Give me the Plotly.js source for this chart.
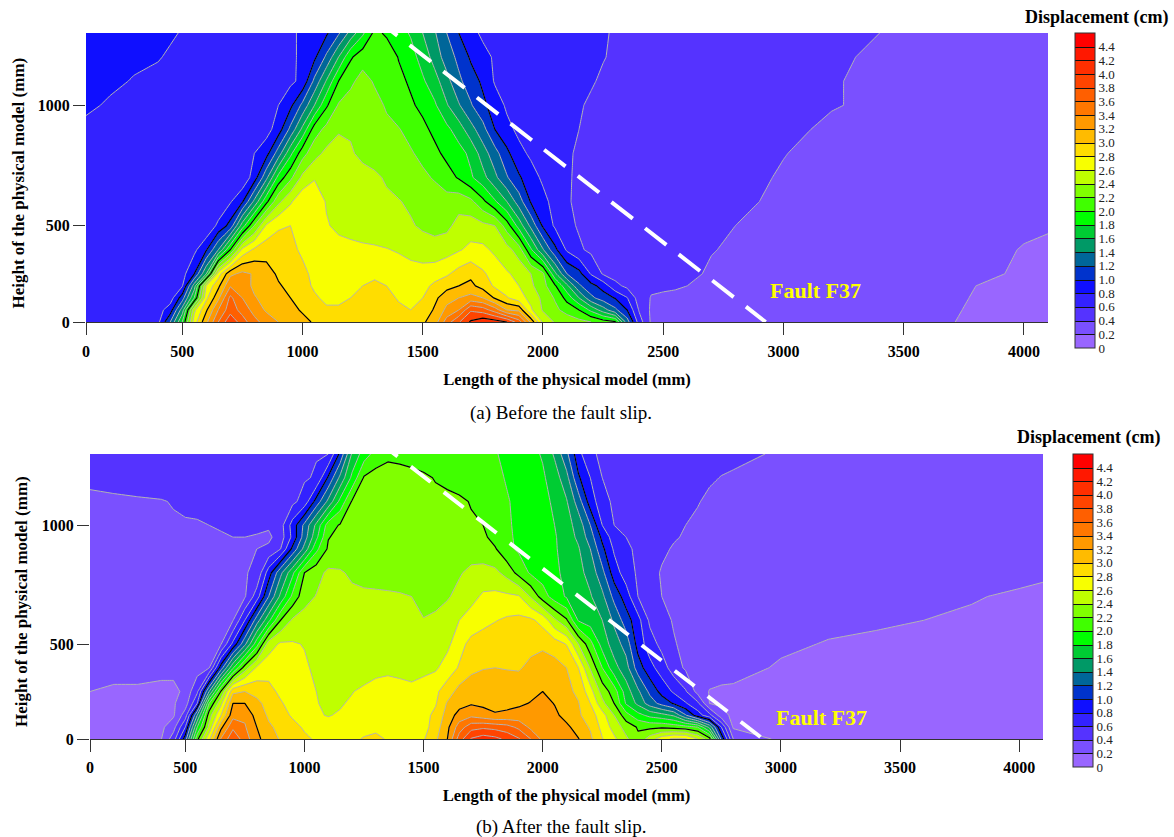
<!DOCTYPE html>
<html><head><meta charset="utf-8">
<script src="https://cdn.plot.ly/plotly-3.0.1.min.js"></script>
<style>html,body{margin:0;padding:0;background:#fff}#c{width:1174px;height:837px}</style>
</head><body><div id="c"></div>
<script>
const xGrid=[100,200,300,400,450,500,550,600,650,700,750,800,850,900,950,1000,1050,1100,1150,1200,1250,1300,1350,1400,1450,1500,1550,1600,1650,1700,1750,1800,1850,1900,1950,2000,2050,2100,2150,2200,2250,2300,2350,2400,2450,2500,2550,2600,2650,2700,2750,2800,3000,3200,3400,3600,3800,4000,4100];
const yGridA=[100,150,200,250,300,400,500,600,700,800,900,1000,1100,1200,1300];
const yGridB=[100,150,200,250,300,400,500,600,700,800,900,950,1000,1100,1200,1300];
const xTickVals=[100,500,1000,1500,2000,2500,3000,3500,4000];
const xTickText=["0","500","1000","1500","2000","2500","3000","3500","4000"];
const yTickVals=[100,500,1000];
const yTickText=["0","500","1000"];
const scaleTickVals=[0,0.2,0.4,0.6,0.8,1,1.2,1.4,1.6,1.8,2,2.2,2.4,2.6,2.8,3,3.2,3.4,3.6,3.8,4,4.2,4.4];
const scaleTickText=["0","0.2","0.4","0.6","0.8","1.0","1.2","1.4","1.6","1.8","2.0","2.2","2.4","2.6","2.8","3.0","3.2","3.4","3.6","3.8","4.0","4.2","4.4"];
const bandColors=["#9966ff","#7a50ff","#5533ff","#3322ff","#0f0fff","#0033cc","#006699","#009966","#00cc33","#00ff00","#40ff00","#80ff00","#bfff00","#f8ff00","#ffdd00","#ffbb00","#ff9900","#ff7700","#ff5f00","#ff4400","#ff2f00","#ff1800","#ff0000"];
const blackLevelsA=[1,2,3,4];
const blackLevelsB=[1,2.2,3.2];
const faultXsA=[1306,2926];
const faultYsA=[1358,100];
const faultXsB=[1308,2925];
const faultYsB=[1354,100];

const zA100=[.65,.65,.65,.75,1.2,1.8,2.7,3.15,3.6,3.95,3.7,3.46,3.32,3.2,3.13,3.05,2.98,2.93,2.9,2.88,2.88,2.9,2.9,2.88,2.92,2.97,3.1,3.5,3.78,4.03,4.14,4.1,4.0,3.7,3.15,2.55,2.38,2.33,2.26,2.2,2.1,2.03,1.3,.7,.37,.33,.33,.33,.33,.33,.33,.33,.32,.3,.28,.24,.17,.14,.13];
const zA150=[.66,.66,.66,.72,.9,1.49,2.55,2.97,3.4,3.72,3.52,3.33,3.17,3.08,3.05,2.98,2.88,2.82,2.82,2.84,2.87,2.88,2.85,2.82,2.8,2.85,3.03,3.25,3.4,3.77,3.7,3.5,3.2,3.15,2.63,2.38,2.25,2.12,2.0,1.75,1.5,1.25,1.0,.58,.37,.36,.36,.36,.35,.35,.35,.35,.34,.32,.29,.25,.18,.15,.14];
const zA200=[.62,.62,.62,.62,.7,1.1,1.8,2.75,3.15,3.65,3.4,3.22,3.12,3.04,3.0,2.9,2.82,2.77,2.77,2.8,2.83,2.86,2.83,2.79,2.77,2.8,2.95,3.13,3.2,3.27,3.2,2.98,2.82,2.68,2.54,2.35,2.18,1.93,1.6,1.25,1.1,.99,.81,.5,.39,.38,.38,.37,.37,.37,.36,.36,.35,.33,.3,.26,.19,.16,.15];
const zA250=[.63,.62,.62,.62,.62,.78,1.5,2.62,2.95,3.38,3.32,3.15,3.06,3.02,2.95,2.85,2.78,2.74,2.74,2.76,2.8,2.85,2.8,2.72,2.7,2.73,2.85,2.93,3.0,3.05,2.92,2.77,2.68,2.6,2.44,2.27,2.03,1.65,1.23,1.07,.92,.66,.55,.47,.43,.42,.41,.4,.36,.35,.34,.34,.33,.32,.3,.27,.2,.17,.16];
const zA300=[.64,.63,.63,.63,.63,.72,1.0,1.6,2.7,3.15,3.25,3.18,3.08,2.97,2.9,2.83,2.77,2.72,2.7,2.7,2.73,2.75,2.73,2.71,2.69,2.68,2.7,2.77,2.88,2.95,2.83,2.72,2.62,2.55,2.4,2.24,1.65,1.2,1.07,.78,.58,.52,.5,.49,.48,.47,.46,.44,.41,.37,.36,.36,.35,.33,.31,.28,.23,.18,.17];
const zA400=[.65,.64,.64,.64,.63,.62,.75,.98,1.4,2.0,2.65,2.84,2.92,2.88,2.83,2.78,2.74,2.71,2.68,2.66,2.64,2.63,2.61,2.58,2.53,2.5,2.49,2.52,2.58,2.65,2.65,2.56,2.48,2.3,1.83,1.42,1.05,.77,.63,.56,.54,.53,.52,.51,.5,.49,.47,.45,.43,.41,.39,.37,.34,.32,.3,.29,.26,.19,.18];
const zA500=[.66,.65,.65,.65,.64,.63,.62,.62,.85,1.07,1.7,2.2,2.63,2.78,2.8,2.72,2.66,2.62,2.55,2.52,2.5,2.48,2.46,2.44,2.42,2.37,2.33,2.35,2.47,2.5,2.45,2.4,2.1,1.72,1.35,.97,.77,.65,.58,.55,.54,.53,.52,.51,.5,.49,.48,.47,.46,.44,.42,.4,.36,.33,.31,.3,.28,.23,.21];
const zA600=[.66,.65,.65,.65,.64,.64,.63,.62,.62,.78,.98,1.45,1.95,2.35,2.57,2.75,2.75,2.58,2.52,2.49,2.48,2.46,2.43,2.41,2.37,2.34,2.3,2.28,2.32,2.25,2.05,1.83,1.6,1.3,.98,.85,.74,.62,.56,.55,.54,.53,.52,.51,.51,.5,.49,.49,.48,.47,.45,.43,.37,.34,.32,.3,.29,.26,.25];
const zA700=[.68,.67,.66,.66,.66,.65,.65,.65,.64,.64,.64,.9,1.35,1.87,2.15,2.45,2.58,2.55,2.5,2.48,2.46,2.43,2.38,2.33,2.28,2.24,2.18,2.08,1.98,1.83,1.67,1.45,1.22,1.03,.87,.77,.7,.62,.57,.55,.54,.53,.52,.52,.51,.5,.5,.49,.49,.48,.47,.45,.385,.34,.32,.31,.3,.29,.28];
const zA800=[.72,.7,.68,.67,.67,.66,.66,.65,.65,.65,.68,.8,.93,1.3,1.75,2.12,2.33,2.45,2.48,2.42,2.36,2.33,2.3,2.26,2.22,2.15,2.05,1.95,1.88,1.75,1.5,1.28,1.05,.85,.77,.74,.7,.62,.58,.55,.54,.53,.52,.52,.51,.5,.5,.49,.48,.47,.46,.45,.405,.35,.33,.32,.31,.3,.29];
const zA900=[.76,.72,.7,.68,.68,.67,.67,.67,.67,.67,.67,.67,.72,.9,1.25,1.65,2.1,2.26,2.38,2.38,2.33,2.27,2.24,2.21,2.14,2.05,1.95,1.85,1.7,1.48,1.27,1.0,.85,.76,.73,.7,.68,.65,.6,.56,.54,.53,.52,.52,.51,.5,.5,.49,.48,.47,.46,.45,.44,.37,.35,.33,.32,.3,.3];
const zA1000=[.83,.78,.74,.71,.7,.7,.69,.69,.68,.68,.68,.68,.71,.8,.95,1.25,1.6,1.97,2.22,2.28,2.3,2.26,2.18,2.1,2.03,1.95,1.83,1.62,1.42,1.22,1.05,.9,.77,.73,.71,.69,.67,.65,.62,.57,.54,.53,.52,.51,.51,.5,.49,.49,.48,.47,.46,.45,.43,.41,.37,.35,.33,.32,.31];
const zA1100=[.85,.83,.79,.76,.74,.72,.71,.7,.7,.7,.7,.7,.7,.72,.76,.85,1.25,1.62,2.0,2.16,2.27,2.18,2.12,2.05,1.97,1.83,1.68,1.47,1.24,1.1,.96,.78,.74,.72,.71,.7,.69,.68,.65,.62,.57,.54,.53,.52,.51,.5,.49,.49,.48,.47,.47,.46,.44,.41,.37,.35,.33,.32,.31];
const zA1200=[.87,.85,.83,.81,.78,.76,.75,.74,.74,.73,.73,.72,.72,.73,.76,.84,.96,1.24,1.6,1.97,2.12,2.17,2.12,1.99,1.88,1.72,1.52,1.3,1.15,.97,.85,.78,.76,.75,.74,.73,.71,.7,.68,.65,.61,.57,.55,.54,.53,.52,.51,.5,.5,.49,.48,.47,.45,.42,.38,.36,.34,.33,.32];
const zA1300=[.92,.9,.87,.84,.82,.79,.77,.76,.75,.75,.75,.75,.75,.76,.78,.82,.88,.97,1.17,1.47,1.76,2.05,1.97,1.88,1.78,1.6,1.42,1.2,1.0,.85,.77,.75,.74,.73,.72,.7,.68,.67,.65,.63,.61,.59,.58,.57,.56,.55,.54,.53,.52,.51,.5,.49,.46,.43,.4,.38,.36,.34,.33];

const zB100=[.13,.13,.14,.2,.5,1.1,2.15,2.75,3.42,3.75,3.5,3.25,3.1,2.98,2.92,2.83,2.78,2.74,2.73,2.75,2.82,2.85,2.78,2.73,2.74,2.78,2.96,3.2,3.7,4.02,4.11,4.06,3.95,3.82,3.6,3.35,3.3,3.27,3.21,3.04,2.81,2.64,2.44,2.24,2.5,2.72,2.84,2.83,2.6,2.28,1.15,.4,.15,.15,.15,.14,.13,.12,.12];
const zB150=[.12,.12,.13,.16,.32,.8,1.8,2.45,3.15,3.56,3.42,3.2,3.03,2.95,2.85,2.78,2.72,2.67,2.65,2.66,2.72,2.75,2.7,2.68,2.68,2.72,2.9,3.15,3.5,3.72,3.76,3.73,3.68,3.55,3.35,3.33,3.3,3.25,3.1,2.98,2.74,2.52,2.32,2.18,2.15,2.16,2.12,2.08,2.0,1.55,.8,.17,.14,.14,.13,.13,.12,.12,.11];
const zB200=[.12,.12,.13,.14,.17,.5,1.4,2.31,2.8,3.33,3.36,3.12,2.97,2.86,2.78,2.7,2.62,2.59,2.62,2.66,2.7,2.72,2.71,2.69,2.68,2.73,2.85,3.08,3.28,3.35,3.28,3.22,3.24,3.27,3.28,3.32,3.25,3.12,3.03,2.9,2.68,2.4,2.08,1.87,1.74,1.67,1.57,1.22,.9,.67,.28,.15,.14,.14,.14,.13,.13,.12,.12];
const zB250=[.13,.13,.14,.16,.18,.3,.8,2.0,2.55,3.2,3.2,3.05,2.93,2.82,2.73,2.66,2.61,2.56,2.58,2.63,2.68,2.72,2.7,2.68,2.68,2.72,2.78,3.02,3.12,3.18,3.16,3.14,3.15,3.17,3.21,3.28,3.19,3.1,3.01,2.8,2.46,2.2,1.78,1.55,1.3,1.13,.98,.82,.65,.2,.17,.15,.15,.15,.14,.14,.13,.13,.12];
const zB300=[.2,.17,.17,.13,.13,.26,.56,1.4,2.22,2.95,3.0,2.94,2.86,2.76,2.68,2.62,2.6,2.55,2.56,2.59,2.65,2.7,2.7,2.66,2.64,2.7,2.76,2.9,3.07,3.12,3.12,3.1,3.1,3.12,3.15,3.2,3.13,3.05,2.96,2.68,2.32,2.1,1.7,1.44,1.15,.93,.77,.62,.33,.19,.17,.17,.16,.16,.15,.15,.14,.14,.13];
const zB400=[.26,.27,.27,.28,.28,.29,.31,.39,1.1,1.77,2.3,2.63,2.72,2.74,2.7,2.63,2.56,2.48,2.46,2.45,2.46,2.52,2.55,2.55,2.54,2.54,2.57,2.69,2.82,2.95,2.99,3.0,2.99,2.98,3.05,3.1,3.08,3.0,2.8,2.38,2.0,1.67,1.48,1.1,.87,.7,.5,.37,.33,.3,.28,.26,.18,.17,.16,.15,.14,.13,.13];
const zB500=[.3,.31,.31,.32,.32,.32,.33,.36,.39,.85,1.35,1.92,2.5,2.63,2.62,2.59,2.55,2.52,2.5,2.48,2.47,2.47,2.46,2.45,2.45,2.45,2.48,2.55,2.73,2.86,2.9,2.92,2.92,2.93,2.94,2.96,2.9,2.79,2.4,2.07,1.72,1.5,1.32,.92,.69,.54,.41,.37,.35,.33,.31,.3,.23,.19,.18,.17,.15,.14,.14];
const zB600=[.33,.34,.34,.35,.35,.35,.36,.37,.38,.39,.8,1.3,1.75,2.2,2.43,2.47,2.48,2.47,2.46,2.45,2.45,2.44,2.44,2.43,2.42,2.41,2.43,2.5,2.6,2.68,2.74,2.79,2.83,2.85,2.84,2.73,2.44,2.23,1.78,1.7,1.6,1.36,1.1,.87,.56,.44,.39,.38,.37,.36,.35,.34,.27,.24,.215,.2,.19,.17,.16];
const zB700=[.35,.36,.36,.37,.37,.37,.37,.37,.38,.38,.38,.7,1.2,1.65,2.05,2.33,2.41,2.43,2.43,2.44,2.44,2.44,2.43,2.42,2.4,2.32,2.35,2.38,2.46,2.54,2.63,2.65,2.64,2.62,2.38,2.1,1.9,1.78,1.7,1.62,1.45,1.14,.9,.6,.47,.4,.38,.37,.37,.36,.35,.34,.29,.26,.24,.22,.205,.19,.185];
const zB800=[.36,.37,.37,.38,.38,.38,.38,.38,.38,.38,.39,.43,.9,1.35,1.75,2.2,2.33,2.44,2.42,2.37,2.33,2.31,2.31,2.3,2.28,2.27,2.28,2.31,2.38,2.45,2.48,2.45,2.33,2.13,1.97,1.9,1.84,1.75,1.66,1.53,1.26,.9,.7,.57,.44,.39,.37,.37,.36,.36,.35,.35,.31,.28,.26,.24,.23,.22,.21];
const zB900=[.38,.38,.38,.38,.38,.38,.38,.38,.38,.38,.37,.4,.44,.6,1.05,1.47,1.95,2.23,2.28,2.25,2.25,2.23,2.23,2.23,2.24,2.24,2.25,2.26,2.28,2.3,2.27,2.22,2.05,1.97,1.93,1.88,1.82,1.73,1.62,1.4,1.05,.77,.63,.57,.47,.42,.39,.37,.36,.35,.34,.33,.32,.3,.27,.26,.25,.24,.23];
const zB950=[.38,.38,.38,.38,.39,.39,.39,.39,.39,.4,.4,.39,.36,.5,.85,1.3,1.75,2.19,2.25,2.25,2.24,2.24,2.24,2.24,2.24,2.24,2.24,2.24,2.25,2.26,2.24,2.13,2.03,1.97,1.93,1.88,1.82,1.7,1.56,1.3,.95,.7,.6,.56,.5,.46,.41,.39,.37,.36,.35,.34,.32,.3,.28,.27,.26,.25,.24];
const zB1000=[.37,.37,.38,.38,.39,.39,.39,.4,.41,.42,.43,.43,.43,.52,.88,1.25,1.65,2.1,2.22,2.24,2.24,2.25,2.25,2.25,2.25,2.24,2.24,2.24,2.23,2.22,2.2,2.1,2.02,1.97,1.93,1.88,1.8,1.68,1.52,1.2,.8,.6,.55,.53,.5,.48,.43,.4,.37,.36,.35,.34,.32,.3,.28,.27,.26,.25,.24];
const zB1100=[.38,.385,.39,.395,.405,.42,.43,.44,.46,.48,.5,.51,.52,.53,.55,.68,1.08,1.45,1.86,2.22,2.25,2.26,2.26,2.26,2.25,2.25,2.24,2.24,2.23,2.19,2.12,2.07,2.01,1.97,1.93,1.85,1.77,1.62,1.3,.9,.68,.56,.55,.54,.53,.51,.49,.47,.41,.37,.36,.35,.34,.32,.31,.29,.28,.27,.27];
const zB1200=[.42,.43,.44,.45,.46,.47,.48,.49,.5,.51,.52,.53,.54,.55,.56,.58,.62,1.03,1.45,1.85,2.22,2.28,2.3,2.28,2.26,2.23,2.19,2.16,2.12,2.09,2.06,2.03,1.99,1.95,1.9,1.83,1.7,1.47,1.03,.8,.6,.56,.55,.54,.53,.52,.5,.48,.46,.42,.395,.38,.36,.34,.33,.32,.31,.3,.29];
const zB1300=[.45,.46,.47,.48,.49,.5,.5,.51,.52,.53,.54,.55,.56,.57,.58,.59,.59,.6,1.05,1.63,1.9,2.08,2.15,2.14,2.12,2.1,2.09,2.08,2.06,2.05,2.03,2.01,1.97,1.92,1.86,1.78,1.57,1.25,.87,.62,.58,.57,.56,.54,.53,.52,.5,.49,.48,.46,.45,.44,.38,.36,.34,.33,.32,.31,.3];

const zA=[zA100,zA150,zA200,zA250,zA300,zA400,zA500,zA600,zA700,zA800,zA900,zA1000,zA1100,zA1200,zA1300];
const zB=[zB100,zB150,zB200,zB250,zB300,zB400,zB500,zB600,zB700,zB800,zB900,zB950,zB1000,zB1100,zB1200,zB1300];

const serif='"Liberation Serif","Times New Roman",serif';
const W=1174,H=837;
const colorscale=bandColors.map((c,i)=>[i/(bandColors.length-1),c]);
const bandContours={start:0.2,end:4.4,size:0.2,coloring:'fill',showlines:true};

function panel(suffix,yGrid,z,blackLevels,faultXs,faultYs,faultDash,barX,barBottom,barLen){
  const xa='x'+suffix, ya='y'+suffix;
  const out=[];
  out.push({type:'contour',x:xGrid,y:yGrid,z:z,xaxis:xa,yaxis:ya,autocontour:false,contours:bandContours,
    colorscale:colorscale,zmin:0,zmax:4.6,showscale:false,line:{color:'#b4b4b4',width:1,smoothing:0},hoverinfo:'skip'});
  blackLevels.forEach(l=>out.push({type:'contour',x:xGrid,y:yGrid,z:z,xaxis:xa,yaxis:ya,autocontour:false,
    contours:{start:l,end:l,size:1,coloring:'none',showlines:true},showscale:false,line:{color:'#000',width:1.2,smoothing:0},hoverinfo:'skip'}));
  out.push({type:'scatter',mode:'lines',x:faultXs,y:faultYs,xaxis:xa,yaxis:ya,showlegend:false,hoverinfo:'skip',
    line:{color:'#fff',width:4,dash:faultDash}});
  // source of the colour scale only: its cells lie beyond the axis range
  out.push({type:'contour',x:[4300,4400],y:[200,300],z:[[0,4.6],[0,4.6]],xaxis:xa,yaxis:ya,autocontour:false,contours:bandContours,
    colorscale:colorscale,zmin:0,zmax:4.6,line:{color:'#111',width:1,smoothing:0},hoverinfo:'skip',
    colorbar:{x:barX/W,xanchor:'left',xpad:0,y:1-barBottom/H,yanchor:'bottom',ypad:0,lenmode:'pixels',len:barLen,thicknessmode:'pixels',thickness:20,
      tickmode:'array',tickvals:scaleTickVals,ticktext:scaleTickText,ticks:'',ticklabelposition:'outside',tickfont:{family:serif,size:13,color:'#222'},
      outlinecolor:'#333',outlinewidth:1,borderwidth:0}});
  return out;
}
const data=[...panel('',yGridA,zA,blackLevelsA,faultXsA,faultYsA,'27px,15.6px',1075,348,315),
            ...panel('2',yGridB,zB,blackLevelsB,faultXsB,faultYsB,'25px,16.7px',1073,767,313)];

const axisCommon={showgrid:false,zeroline:false,ticks:'outside',ticklen:12,tickwidth:1,tickcolor:'#333',
  tickfont:{family:serif,size:16,color:'#000',weight:'bold'},tickmode:'array'};
const xTitleFont={family:serif,size:16.6,color:'#000',weight:'bold'};
function xAxis(anchor,x0,x1,labelGap,titleGap){return {...axisCommon,anchor:anchor,domain:[x0/W,x1/W],range:[100,4100],tickvals:xTickVals,ticktext:xTickText,showline:true,linecolor:'#333',linewidth:1,
  ticklabelstandoff:labelGap,title:{text:'Length of the physical model (mm)',font:xTitleFont,standoff:titleGap}};}
function yAxis(anchor,y0,y1){return {...axisCommon,anchor:anchor,domain:[1-y1/H,1-y0/H],range:[100,1300],tickvals:yTickVals,ticktext:yTickText,showline:false};}
function note(text,x,y,font,angle){return {text:text,x:x/W,y:1-y/H,xref:'paper',yref:'paper',showarrow:false,xanchor:'center',yanchor:'middle',font:font,textangle:angle||0};}
const capFont={family:serif,size:19,color:'#000'};
const barTitle={family:serif,size:18,color:'#000',weight:'bold'};
const faultFont={family:serif,size:22,color:'#ffff00',weight:'bold'};
const yTitleFont={family:serif,size:17,color:'#000',weight:'bold'};
const layout={width:W,height:H,margin:{l:0,r:0,t:0,b:0,autoexpand:false},paper_bgcolor:'#fff',plot_bgcolor:'#fff',showlegend:false,
  xaxis:xAxis('y',86,1048,3,14),yaxis:yAxis('x',33,322),
  xaxis2:xAxis('y2',90,1043,2,14),yaxis2:yAxis('x2',454,739),
  annotations:[note('(a) Before the fault slip.',561,413,capFont),note('(b) After the fault slip.',561,827,capFont),
    note('Displacement (cm)',1096,17,barTitle),note('Displacement (cm)',1088,437,barTitle),
    note('Fault F37',815,290,faultFont),note('Fault F37',821,717,faultFont),
    note('Height of the physical model (mm)',18,183.5,yTitleFont,-90),note('Height of the physical model (mm)',21,602,yTitleFont,-90)]};
Plotly.newPlot('c',data,layout,{displayModeBar:false,staticPlot:true});
</script></body></html>
